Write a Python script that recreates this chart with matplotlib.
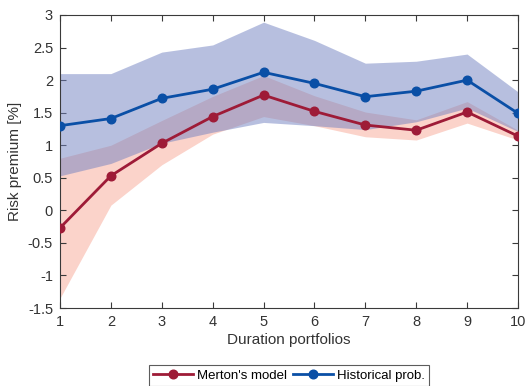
import matplotlib
matplotlib.use("Agg")
import matplotlib.pyplot as plt
from matplotlib.ticker import FuncFormatter

plt.rcParams['font.family'] = ['Liberation Sans', 'DejaVu Sans']
plt.rcParams['axes.unicode_minus'] = False

portfolios = [1, 2, 3, 4, 5, 6, 7, 8, 9, 10]

merton = [-0.27, 0.53, 1.03, 1.44, 1.77, 1.52, 1.31, 1.23, 1.51, 1.14]
merton_hi = [0.80, 1.00, 1.38, 1.75, 2.07, 1.76, 1.51, 1.39, 1.67, 1.23]
merton_lo = [-1.35, 0.08, 0.70, 1.17, 1.44, 1.30, 1.13, 1.08, 1.34, 1.08]

hist = [1.30, 1.41, 1.72, 1.86, 2.12, 1.95, 1.745, 1.83, 2.00, 1.49]
hist_hi = [2.10, 2.10, 2.43, 2.54, 2.89, 2.61, 2.26, 2.29, 2.40, 1.82]
hist_lo = [0.53, 0.72, 1.03, 1.20, 1.35, 1.30, 1.24, 1.36, 1.57, 1.21]

red = '#9e1b37'
blue = '#0a4fa6'
axcol = '#3a3a3a'

fig = plt.figure(figsize=(5.26, 3.86), dpi=100)
ax = fig.add_axes([60 / 526, 1 - 308 / 386, 458 / 526, 293 / 386])

ax.fill_between(portfolios, merton_lo, merton_hi, color='#fbd3ca', lw=0, zorder=1)
ax.fill_between(portfolios, hist_lo, hist_hi, color='#7181c1', alpha=0.5, lw=0, zorder=2)

l1, = ax.plot(portfolios, merton, color=red, lw=2.0, marker='o', ms=6.2, zorder=4,
              label="Merton's model")
l2, = ax.plot(portfolios, hist, color=blue, lw=2.0, marker='o', ms=6.2, zorder=5,
              label='Historical prob.')

ax.set_xlim(1, 10)
ax.set_ylim(-1.5, 3)
ax.set_xticks(portfolios)
ax.set_yticks([-1.5, -1, -0.5, 0, 0.5, 1, 1.5, 2, 2.5, 3])
ax.yaxis.set_major_formatter(FuncFormatter(lambda v, p: '%g' % v))

ax.tick_params(direction='in', top=True, right=True, length=4, width=0.8,
               colors=axcol, labelsize=10.5, labelcolor='#333333', pad=5)
for s in ax.spines.values():
    s.set_color(axcol)
    s.set_linewidth(0.8)

ax.set_xlabel('Duration portfolios', fontsize=11, color='#333333', labelpad=3)
ax.set_ylabel('Risk premium [%]', fontsize=11, color='#333333', labelpad=4)

leg = fig.legend(handles=[l1, l2], loc='upper center', bbox_to_anchor=(289 / 526, 1 - 365 / 386),
                 ncol=2, fontsize=9.5, frameon=True, fancybox=False, borderpad=0.35,
                 handlelength=3.0, columnspacing=0.5, handletextpad=0.3, borderaxespad=0)
leg.get_frame().set_edgecolor('#333333')
leg.get_frame().set_linewidth(0.8)

fig.savefig('out.png', dpi=100)
